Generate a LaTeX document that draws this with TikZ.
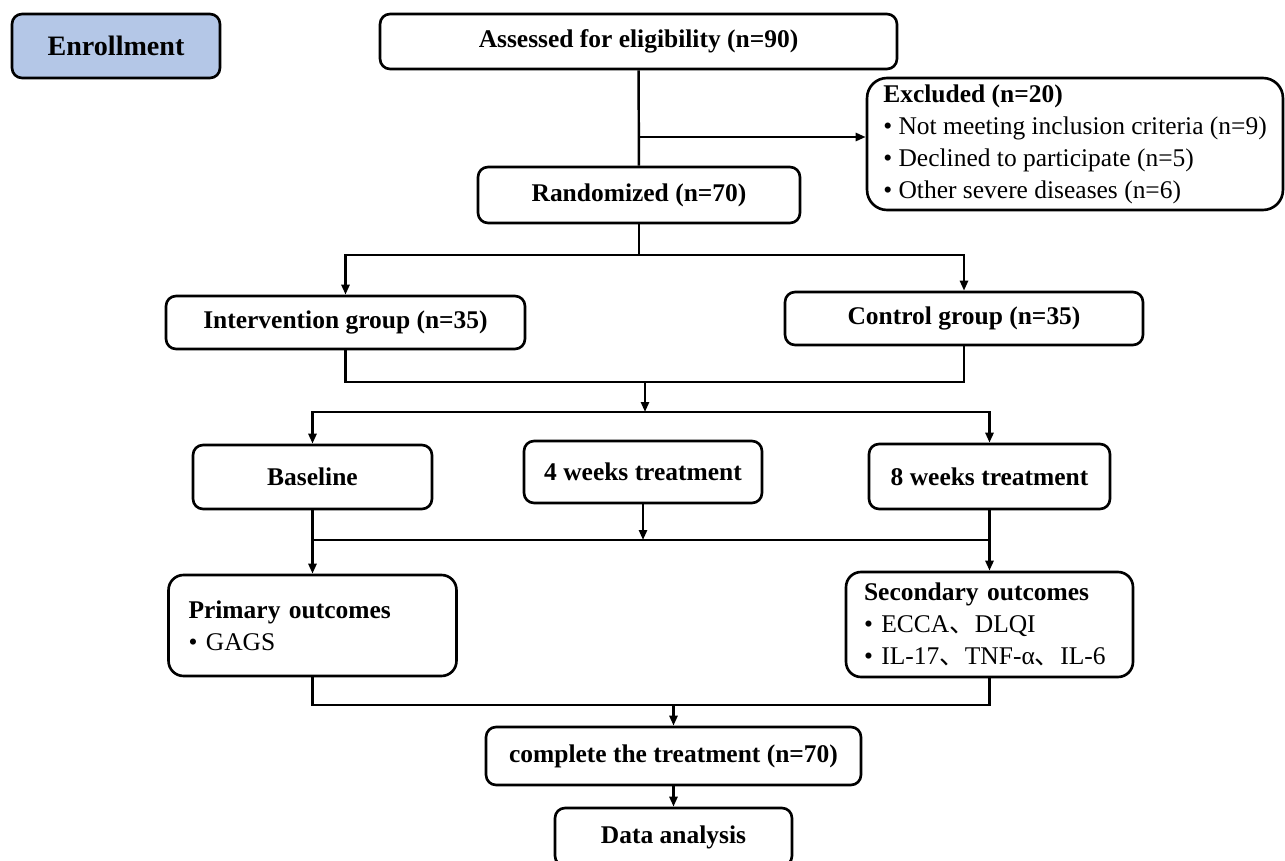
\documentclass[tikz,border=0pt]{standalone}
\usepackage{fontspec}
\setmainfont{Liberation Serif}
\newfontfamily\cjk{Noto Sans CJK SC}
\usetikzlibrary{arrows.meta, positioning}
\definecolor{enrollblue}{RGB}{180,199,231}

\begin{document}
\begin{tikzpicture}[
    x=0.02cm, y=-0.02cm,
    box/.style={rectangle, draw, rounded corners=0.2cm, line width=1.5pt, inner sep=0pt, align=center, font=\fontsize{14.5}{18.2}\selectfont\bfseries},
    listbox/.style={box, rounded corners=0.3cm, align=left, font=\fontsize{14.5}{18.2}\selectfont},
    bluebox/.style={box, fill=enrollblue, font=\fontsize{16}{19}\selectfont\bfseries},
    line/.style={line width=1.4pt},
    arrow/.style={line, -{Triangle[length=0.2cm, width=0.16cm]}}
]
\useasboundingbox (0,0) rectangle (1285,861);

% Enrollment
\node[bluebox, minimum width=4.16cm, minimum height=1.28cm] (enroll) at (116,46) {Enrollment};
\node[box, minimum width=10.34cm, minimum height=1.10cm] (assess) at (638.5,41.5) {Assessed for eligibility (n=90)};
\node[listbox, rounded corners=0.4cm, minimum width=8.32cm, minimum height=2.64cm] (excl) at (1075,144) {\textbf{Excluded (n=20)}\\• Not meeting inclusion criteria (n=9)\\• Declined to participate (n=5)\\• Other severe diseases (n=6)};
\node[box, minimum width=6.44cm, minimum height=1.12cm] (random) at (639,195) {Randomized (n=70)};

% Groups
\node[box, minimum width=7.18cm, minimum height=1.06cm] (inter) at (345.5,322.5) {Intervention group (n=35)};
\node[box, minimum width=7.16cm, minimum height=1.06cm] (ctrl) at (964,318.5) {Control group (n=35)};

% Time points
\node[box, minimum width=4.78cm, minimum height=1.28cm] (base) at (312.5,477) {Baseline};
\node[box, minimum width=4.76cm, minimum height=1.24cm] (wk4) at (643,472) {4 weeks treatment};
\node[box, minimum width=4.82cm, minimum height=1.30cm] (wk8) at (989.5,476.5) {8 weeks treatment};

% Outcomes
\node[listbox, text width=4.96cm, minimum width=5.76cm, minimum height=2.02cm] (prim) at (312.5,625.5) {\textbf{Primary outcomes}\\• GAGS};
\node[listbox, text width=5.02cm, minimum width=5.74cm, minimum height=2.10cm] (second) at (989.5,624.5) {\textbf{Secondary outcomes}\\• ECCA{\cjk 、}DLQI\\• IL-17{\cjk 、}TNF-α{\cjk 、}IL-6};

% End
\node[box, minimum width=7.50cm, minimum height=1.16cm] (complete) at (673.5,756) {complete the treatment (n=70)};
\node[box, minimum width=4.74cm, minimum height=1.16cm] (data) at (673.5,837) {Data analysis};

% Arrows
\coordinate (exsplit) at (638.5,137);
\draw[line] (assess) -- (random);
\draw[arrow] (exsplit) -- (exsplit -| excl.west);

\coordinate (rsplit) at (639,255);
\draw[line] (random) -- (rsplit);
\draw[arrow] (rsplit) -| (inter);
\draw[arrow] (rsplit) -| (ctrl);

\coordinate (gmerge) at (645,382);
\coordinate (tsplit) at (645,412);
\draw[line] (inter) |- (gmerge);
\draw[line] (ctrl) |- (gmerge);
\draw[arrow] (gmerge) -- (tsplit);
\draw[arrow] (tsplit) -| (base);
\draw[arrow] (tsplit) -| (wk8);

\coordinate (oleft) at (312.5,540);
\coordinate (oright) at (989.5,540);
\draw[line] (oleft) -- (oright);
\draw[arrow] (base) -- (prim);
\draw[arrow] (wk8) -- (second);
\draw[arrow] (wk4) -- (wk4 |- oleft);

\coordinate (cmerge) at (673.5,705);
\draw[line] (prim) |- (cmerge);
\draw[line] (second) |- (cmerge);
\draw[arrow] (cmerge) -- (complete);
\draw[arrow] (complete) -- (data);

\end{tikzpicture}
\end{document}
